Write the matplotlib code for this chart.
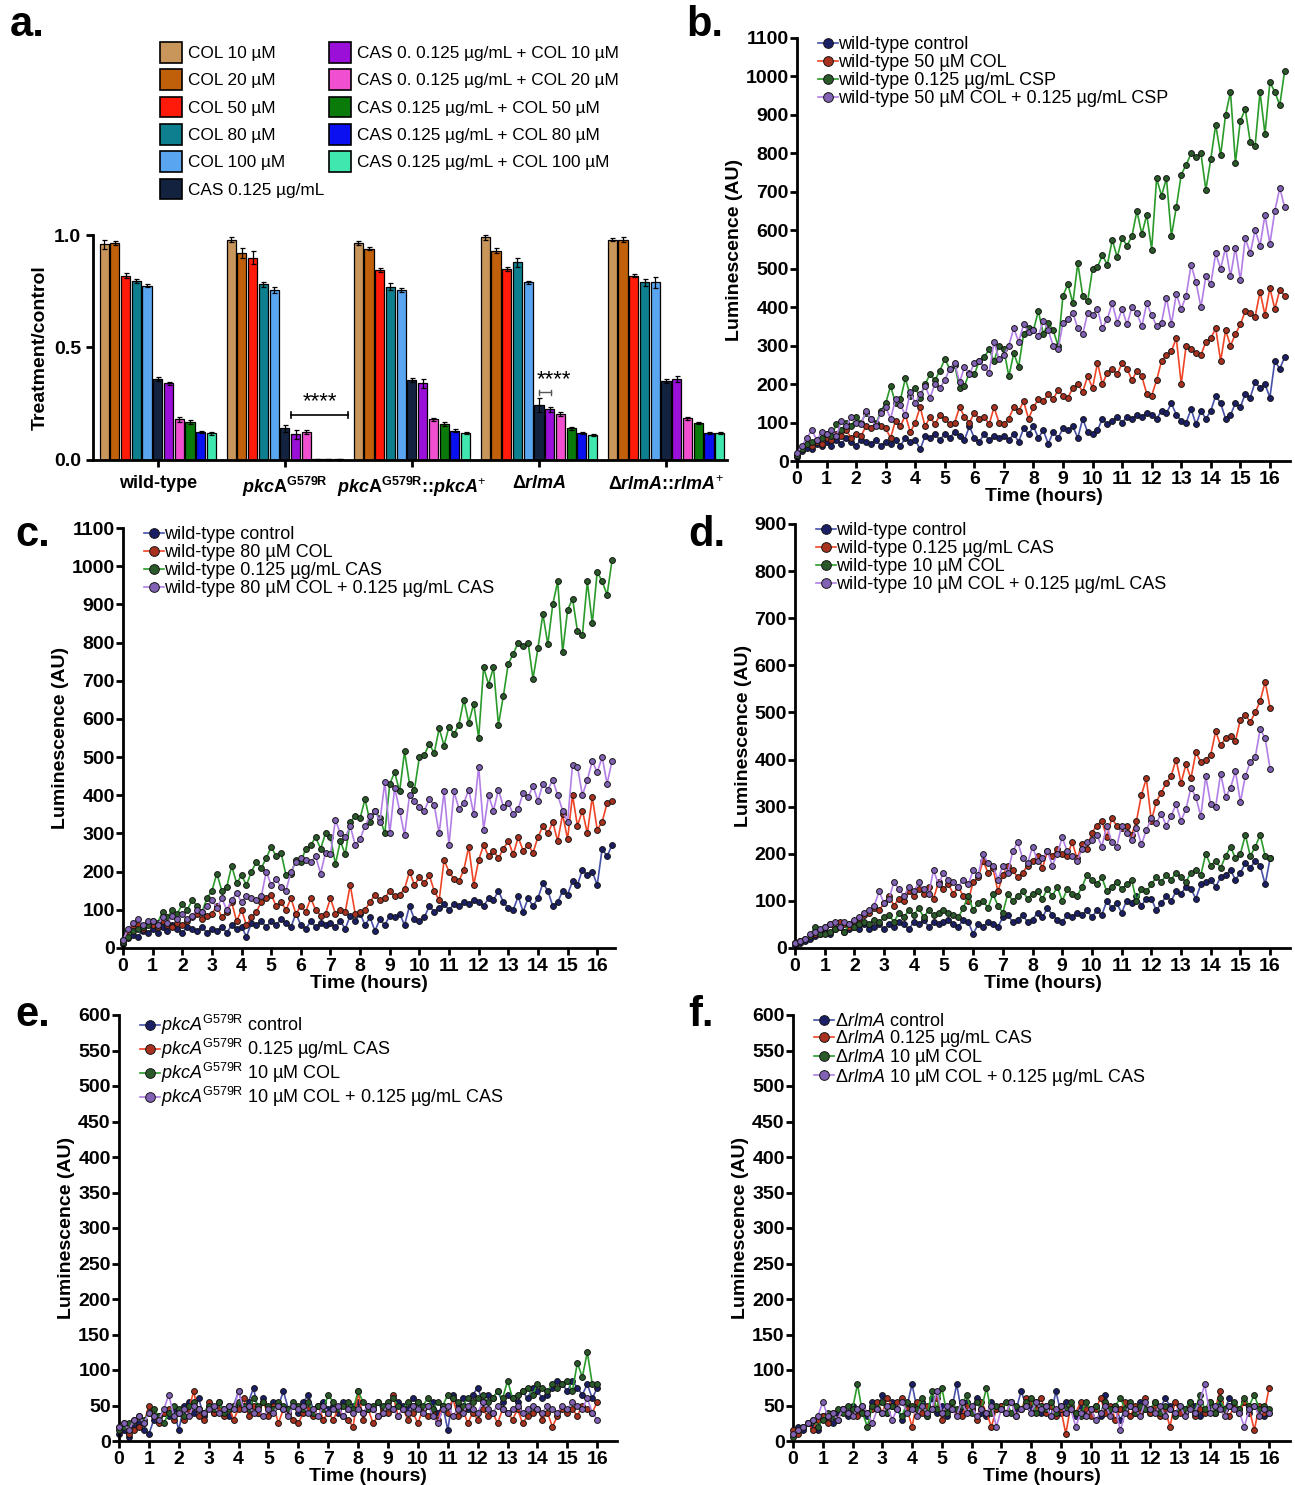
import numpy as np
import matplotlib
matplotlib.use('Agg')
import matplotlib.pyplot as plt
from matplotlib.patches import Patch

plt.rcParams['font.family'] = ['Liberation Sans', 'DejaVu Sans']
plt.rcParams['mathtext.fontset'] = 'custom'
plt.rcParams['mathtext.rm'] = 'Liberation Sans'
plt.rcParams['mathtext.it'] = 'Liberation Sans:italic'
plt.rcParams['mathtext.bf'] = 'Liberation Sans:bold'
try:
    plt.rcParams['mathtext.bfit'] = 'Liberation Sans:italic:bold'
    BFIT = True
except KeyError:
    BFIT = False

# ---------------- Panel a data ----------------
treatments = ['COL 10 µM', 'COL 20 µM', 'COL 50 µM', 'COL 80 µM', 'COL 100 µM',
              'CAS 0.125 µg/mL', 'CAS 0. 0.125 µg/mL + COL 10 µM',
              'CAS 0. 0.125 µg/mL + COL 20 µM', 'CAS 0.125 µg/mL + COL 50 µM',
              'CAS 0.125 µg/mL + COL 80 µM', 'CAS 0.125 µg/mL + COL 100 µM']
bar_colors = ['#c8955a', '#c0600a', '#ff1a0a', '#0e7f8e', '#5aa5f0', '#13233f',
              '#9b10d8', '#f050d0', '#0a7a0a', '#0a10f0', '#40e8b0']
it = r'\mathbfit' if BFIT else r'\mathit'
strains = ['wild-type',
           r'$' + it + r'{pkc}\mathbf{A}^{\mathbf{G579R}}$',
           r'$' + it + r'{pkc}\mathbf{A}^{\mathbf{G579R}}$' + '::' + r'$' + it + r'{pkcA}^{+}$',
           'Δ' + r'$' + it + r'{rlmA}$',
           'Δ' + r'$' + it + r'{rlmA}$' + '::' + r'$' + it + r'{rlmA}^{+}$']
bar_wt = [0.96, 0.965, 0.82, 0.795, 0.775, 0.36, 0.34, 0.18, 0.168, 0.125, 0.118]
bar_pkc = [0.98, 0.92, 0.90, 0.78, 0.755, 0.14, 0.115, 0.125, 0.004, 0.004, 0.004]
bar_pkc_comp = [0.965, 0.94, 0.845, 0.77, 0.755, 0.355, 0.34, 0.18, 0.16, 0.13, 0.12]
bar_rlm = [0.99, 0.93, 0.85, 0.88, 0.79, 0.245, 0.225, 0.205, 0.14, 0.12, 0.11]
bar_rlm_comp = [0.98, 0.98, 0.82, 0.79, 0.79, 0.35, 0.36, 0.185, 0.165, 0.12, 0.12]
err_wt = [0.02, 0.01, 0.01, 0.008, 0.008, 0.008, 0.006, 0.01, 0.01, 0.006, 0.006]
err_pkc = [0.01, 0.02, 0.03, 0.01, 0.015, 0.015, 0.02, 0.008, 0.002, 0.002, 0.002]
err_pkc_comp = [0.008, 0.008, 0.01, 0.015, 0.01, 0.008, 0.02, 0.006, 0.008, 0.006, 0.006]
err_rlm = [0.01, 0.01, 0.01, 0.02, 0.006, 0.03, 0.01, 0.008, 0.008, 0.006, 0.005]
err_rlm_comp = [0.006, 0.01, 0.006, 0.015, 0.025, 0.01, 0.015, 0.008, 0.006, 0.006, 0.006]

# ---------------- Time-course data (10-min readings) ----------------
b_control = [10, 25, 35, 30, 45, 40, 50, 40, 55, 45, 60, 50, 40, 55, 50, 45, 55, 40,
             50, 45, 55, 40, 60, 50, 55, 30, 65, 60, 70, 55, 70, 60, 75, 65, 55, 90,
             60, 50, 70, 55, 65, 60, 65, 55, 70, 50, 85, 70, 90, 60, 80, 45, 75, 60,
             85, 80, 90, 60, 110, 75, 70, 80, 110, 95, 105, 115, 100, 115, 110, 120, 115, 125,
             120, 110, 130, 125, 150, 120, 105, 100, 135, 95, 130, 110,
             130, 170, 150, 110, 120, 150, 140, 175, 165, 205, 190, 200, 165, 260, 240, 270]
b_col50 = [15, 30, 45, 40, 50, 45, 60, 55, 70, 65, 80, 60, 70, 65, 90, 85, 100, 90,
           85, 60, 105, 90, 120, 75, 100, 140, 90, 115, 95, 120, 110, 95, 100, 140, 115, 100,
           125, 110, 115, 95, 140, 100, 95, 110, 140, 130, 155, 110, 140, 160, 155, 175, 160, 185,
           170, 165, 190, 200, 180, 220, 190, 255, 200, 230, 240, 225, 255, 240, 210, 235, 220, 175,
           170, 210, 260, 275, 285, 320, 200, 300, 290, 280, 275, 310,
           320, 345, 260, 340, 300, 330, 355, 390, 385, 375, 440, 380, 450, 395, 445, 430]
b_cas = [15, 30, 45, 50, 55, 60, 70, 65, 95, 80, 100, 90, 115, 100, 125, 110, 95, 130,
         150, 195, 150, 160, 215, 170, 190, 165, 200, 225, 210, 235, 265, 240, 250, 190, 195, 230,
         225, 260, 270, 290, 260, 300, 290, 220, 280, 245, 330, 345, 340, 390, 330, 360, 340, 300,
         430, 460, 410, 515, 430, 415, 500, 505, 535, 510, 575, 530, 580, 560, 585, 650, 590, 640,
         550, 735, 690, 735, 585, 660, 745, 770, 800, 790, 800, 705,
         785, 875, 795, 900, 960, 775, 885, 915, 830, 820, 960, 850, 985, 960, 925, 1015]
b_combo = [20, 40, 60, 80, 55, 75, 70, 80, 65, 105, 90, 115, 100, 95, 130, 110, 90, 125,
           140, 110, 160, 145, 120, 180, 150, 175, 195, 165, 200, 190, 210, 240, 255, 205, 245, 225,
           255, 260, 245, 230, 310, 265, 275, 300, 345, 310, 355, 335, 340, 325, 365, 340, 300, 290,
           360, 370, 385, 345, 330, 385, 380, 395, 345, 370, 410, 360, 395, 355, 400, 385, 350, 410,
           380, 350, 360, 425, 355, 435, 395, 430, 510, 465, 400, 480,
           460, 540, 500, 555, 480, 555, 470, 580, 540, 600, 560, 640, 565, 650, 710, 660]
c_col80 = [20, 45, 55, 60, 50, 65, 60, 55, 70, 60, 55, 65, 60, 70, 80, 90, 75, 85,
           90, 110, 80, 95, 120, 70, 100, 60, 80, 95, 120, 130, 140, 110, 120, 100, 130, 90,
           110, 95, 130, 100, 85, 90, 130, 90, 100, 95, 165, 90, 95, 100, 120, 140, 125, 130,
           150, 135, 140, 155, 200, 165, 185, 170, 190, 150, 125, 230, 200, 180, 175, 205, 265, 165,
           230, 270, 240, 255, 235, 260, 280, 245, 290, 255, 270, 250,
           290, 320, 300, 330, 280, 350, 285, 400, 320, 360, 300, 395, 310, 330, 380, 385]
c_combo = [20, 50, 65, 75, 60, 70, 70, 60, 80, 65, 85, 75, 90, 75, 85, 100, 95, 110,
           125, 105, 130, 100, 125, 145, 120, 135, 130, 125, 135, 200, 165, 180, 160, 150, 200, 225,
           235, 230, 225, 240, 195, 250, 245, 335, 300, 290, 320, 270, 285, 320, 345, 360, 330, 435,
           300, 420, 360, 295, 400, 385, 370, 360, 390, 375, 300, 410, 270, 410, 365, 380, 415, 350,
           475, 310, 400, 360, 415, 370, 380, 350, 365, 405, 395, 425,
           385, 430, 415, 440, 400, 360, 330, 480, 475, 400, 440, 490, 460, 500, 430, 490]
d_control = [5, 10, 15, 20, 25, 30, 35, 30, 40, 45, 35, 40, 45, 40, 50, 40, 45, 50,
             40, 50, 45, 55, 50, 40, 55, 50, 60, 45, 55, 50, 55, 60, 50, 45, 60, 55,
             30, 50, 45, 55, 50, 45, 65, 70, 55, 60, 70, 55, 60, 75, 65, 85, 70, 60,
             55, 70, 65, 75, 70, 80, 65, 80, 70, 100, 85, 95, 75, 100, 95, 110, 90, 105,
             105, 80, 95, 110, 100, 120, 115, 130, 125, 105, 135, 140,
             145, 130, 150, 155, 165, 145, 160, 180, 170, 185, 175, 135, 190]
d_cas = [10, 15, 20, 25, 30, 35, 45, 50, 40, 55, 50, 45, 55, 60, 70, 75, 85, 80,
         95, 110, 90, 105, 100, 120, 110, 125, 115, 130, 105, 140, 125, 135, 115, 130, 110, 100,
         140, 150, 185, 160, 170, 120, 155, 175, 165, 150, 160, 175, 185, 195, 170, 205, 195, 210,
         200, 195, 225, 190, 220, 210, 245, 260, 270, 235, 275, 260, 255, 260, 240, 270, 325, 360,
         270, 310, 330, 350, 365, 400, 350, 390, 360, 415, 395, 400,
         410, 460, 430, 445, 450, 440, 485, 495, 480, 500, 525, 565, 510]
d_col10 = [10, 15, 20, 25, 45, 30, 30, 35, 40, 45, 35, 50, 45, 50, 55, 50, 60, 55,
           65, 70, 55, 75, 65, 80, 70, 85, 65, 80, 70, 75, 80, 75, 70, 65, 85, 110,
           80, 95, 100, 85, 115, 90, 75, 115, 100, 110, 120, 105, 115, 120, 105, 125, 110, 130,
           100, 125, 115, 110, 130, 155, 145, 135, 150, 120, 130, 140, 125, 135, 145, 100, 125, 120,
           135, 150, 140, 155, 145, 160, 150, 140, 160, 165, 155, 200,
           175, 185, 170, 195, 215, 190, 200, 240, 195, 215, 240, 195, 190]
d_combo = [10, 15, 20, 30, 35, 40, 45, 50, 55, 45, 55, 50, 60, 65, 75, 80, 90, 120,
           95, 105, 140, 125, 110, 130, 120, 140, 125, 115, 165, 135, 160, 145, 140, 130, 145, 135,
           165, 155, 200, 180, 175, 145, 175, 160, 205, 225, 190, 180, 215, 185, 190, 205, 175, 200,
           235, 205, 195, 185, 210, 225, 230, 240, 215, 260, 225, 215, 260, 245, 230, 255, 220, 250,
           275, 265, 285, 260, 280, 305, 270, 295, 340, 320, 280, 365,
           305, 300, 370, 320, 340, 375, 310, 365, 395, 405, 465, 445, 380]
e_control = [10, 15, 5, 20, 25, 15, 10, 30, 35, 40, 35, 45, 15, 50, 55, 40, 60, 35,
             50, 40, 55, 45, 35, 50, 70, 45, 55, 75, 40, 60, 45, 55, 50, 70, 45, 50,
             40, 55, 65, 45, 50, 55, 45, 50, 40, 55, 45, 50, 55, 40, 50, 45, 55, 40,
             50, 45, 55, 50, 45, 60, 55, 45, 50, 55, 40, 50, 15, 65, 50, 60, 45, 65,
             75, 55, 65, 60, 70, 55, 65, 60, 55, 70, 60, 75,
             70, 60, 65, 75, 85, 80, 70, 85, 75, 65, 80, 60, 75]
e_cas = [20, 25, 10, 15, 20, 25, 50, 35, 25, 40, 45, 30, 40, 30, 45, 70, 35, 30,
         55, 40, 45, 35, 50, 30, 45, 60, 35, 50, 40, 55, 35, 50, 25, 45, 40, 30,
         25, 40, 45, 35, 50, 30, 40, 30, 45, 35, 30, 20, 70, 30, 45, 25, 35, 45,
         40, 65, 35, 45, 30, 40, 25, 45, 35, 40, 30, 50, 40, 60, 35, 45, 25, 40,
         30, 45, 35, 40, 25, 45, 40, 30, 45, 25, 35, 40,
         45, 30, 40, 20, 35, 45, 40, 45, 35, 50, 45, 40, 55]
e_col10 = [15, 20, 25, 30, 35, 30, 40, 45, 35, 25, 40, 50, 45, 35, 50, 55, 45, 40,
           50, 45, 55, 40, 45, 50, 55, 50, 45, 60, 50, 55, 50, 45, 55, 50, 45, 55,
           50, 45, 55, 40, 50, 45, 65, 55, 45, 50, 55, 45, 70, 55, 45, 50, 55, 50,
           55, 60, 50, 45, 55, 50, 55, 50, 60, 45, 55, 50, 65, 60, 55, 50, 60, 55,
           60, 65, 55, 60, 70, 60, 85, 60, 65, 70, 75, 65,
           80, 75, 70, 80, 75, 80, 85, 70, 110, 90, 125, 80, 80]
e_combo = [20, 25, 15, 30, 35, 25, 40, 35, 30, 45, 65, 35, 40, 45, 35, 50, 45, 40,
           45, 50, 40, 45, 50, 45, 70, 45, 50, 40, 45, 35, 45, 40, 50, 45, 35, 50,
           45, 50, 40, 45, 35, 50, 40, 45, 50, 35, 45, 40, 45, 40, 50, 45, 35, 40,
           50, 45, 35, 45, 40, 50, 45, 40, 50, 35, 25, 45, 50, 35, 45, 40, 50, 45,
           40, 55, 45, 40, 50, 45, 40, 45, 50, 40, 45, 50,
           45, 40, 50, 45, 40, 50, 45, 55, 50, 45, 60, 40, 30]
f_control = [10, 20, 15, 25, 20, 15, 35, 30, 25, 40, 45, 35, 50, 40, 45, 35, 55, 45,
             65, 40, 55, 45, 30, 50, 80, 45, 55, 35, 60, 40, 50, 35, 45, 80, 40, 55,
             45, 60, 40, 35, 55, 45, 50, 40, 55, 45, 70, 50, 45, 55, 40, 50, 35, 70,
             40, 55, 45, 35, 50, 40, 45, 50, 35, 65, 40, 50, 30, 45, 50, 40, 55, 45,
             40, 55, 45, 60, 50, 40, 45, 40, 55, 50, 35, 45,
             50, 40, 55, 45, 60, 50, 45, 55, 40, 50, 45, 35, 40]
f_cas = [15, 10, 20, 25, 15, 30, 35, 25, 40, 30, 45, 40, 45, 35, 50, 40, 45, 55,
         40, 60, 50, 55, 60, 45, 20, 55, 40, 50, 45, 60, 30, 45, 55, 40, 35, 50,
         45, 30, 55, 40, 20, 45, 50, 40, 55, 35, 45, 60, 55, 45, 60, 40, 50, 35,
         45, 10, 50, 40, 55, 45, 35, 45, 60, 40, 50, 30, 45, 55, 35, 50, 40, 60,
         40, 50, 35, 45, 20, 55, 40, 45, 50, 35, 45, 40,
         55, 40, 70, 45, 35, 50, 40, 55, 45, 15, 50, 40, 75]
f_col10 = [5, 15, 20, 25, 30, 20, 30, 40, 35, 45, 40, 50, 45, 80, 40, 20, 50, 45,
           55, 40, 50, 45, 35, 55, 50, 45, 60, 35, 70, 45, 75, 40, 55, 45, 50, 65,
           40, 55, 45, 75, 40, 50, 45, 55, 40, 50, 45, 55, 60, 40, 50, 45, 55, 40,
           50, 45, 55, 40, 35, 55, 45, 50, 40, 55, 45, 50, 60, 45, 55, 40, 50, 45,
           45, 55, 40, 50, 45, 35, 50, 45, 55, 40, 65, 45,
           55, 40, 60, 45, 50, 55, 45, 60, 50, 65, 45, 50, 45]
f_combo = [10, 15, 20, 25, 30, 35, 55, 35, 40, 30, 45, 40, 35, 45, 50, 40, 25, 45,
           40, 50, 30, 45, 55, 40, 45, 35, 50, 40, 45, 70, 40, 50, 45, 35, 55, 40,
           50, 35, 45, 40, 50, 20, 45, 40, 55, 35, 45, 50, 40, 55, 45, 50, 35, 45,
           50, 40, 45, 20, 40, 35, 45, 30, 40, 50, 35, 45, 15, 40, 50, 45, 35, 55,
           45, 40, 50, 35, 45, 40, 50, 35, 45, 40, 55, 80,
           40, 50, 45, 35, 50, 45, 40, 20, 45, 50, 35, 45, 40]
READS_PER_HOUR = 6

labels_b = ['wild-type control', 'wild-type 50 µM COL', 'wild-type 0.125 µg/mL CSP',
            'wild-type 50 µM COL + 0.125 µg/mL CSP']
labels_c = ['wild-type control', 'wild-type 80 µM COL', 'wild-type 0.125 µg/mL CAS',
            'wild-type 80 µM COL + 0.125 µg/mL CAS']
labels_d = ['wild-type control', 'wild-type 0.125 µg/mL CAS', 'wild-type 10 µM COL',
            'wild-type 10 µM COL + 0.125 µg/mL CAS']
pk = r'$\mathit{pkcA}^{\mathregular{G579R}}$'
labels_e = [pk + ' control', pk + ' 0.125 µg/mL CAS', pk + ' 10 µM COL',
            pk + ' 10 µM COL + 0.125 µg/mL CAS']
rl = r'Δ$\mathit{rlmA}$'
labels_f = [rl + ' control', rl + ' 0.125 µg/mL CAS', rl + ' 10 µM COL',
            rl + ' 10 µM COL + 0.125 µg/mL CAS']

line_colors = ['#4650a8', '#ee4425', '#2a9a2a', '#b27ee6']
face_colors = ['#1b1f66', '#a8321f', '#2a5a2a', '#8262b4']

W, H = 1295, 1485
fig = plt.figure(figsize=(W / 100, H / 100), dpi=100)

TICK_FS = 14
LABEL_FS = 14


def rect(left, right, top, bottom):
    return [left / W, 1 - bottom / H, (right - left) / W, (bottom - top) / H]


def style_axes(ax):
    for s in ['top', 'right']:
        ax.spines[s].set_visible(False)
    for s in ['left', 'bottom']:
        ax.spines[s].set_linewidth(2)
    ax.tick_params(width=2, length=5, labelsize=TICK_FS)
    for lab in ax.get_xticklabels() + ax.get_yticklabels():
        lab.set_fontweight('bold')


# ---------------- Panel a ----------------
axa = fig.add_axes(rect(93, 727, 235, 460))
bar_sets = [bar_wt, bar_pkc, bar_pkc_comp, bar_rlm, bar_rlm_comp]
err_sets = [err_wt, err_pkc, err_pkc_comp, err_rlm, err_rlm_comp]
pitch = 0.0845
width = 0.072
for gi, (vals, errs) in enumerate(zip(bar_sets, err_sets)):
    for ti in range(len(treatments)):
        x = gi + (ti - 5) * pitch
        axa.bar(x, vals[ti], width=width, color=bar_colors[ti], edgecolor='black',
                linewidth=0.9, zorder=2)
        axa.errorbar(x, vals[ti], yerr=errs[ti], color='black', capsize=1.8,
                     elinewidth=0.9, capthick=0.9, zorder=3, clip_on=False)
axa.set_xlim(-0.51, 4.48)
axa.set_ylim(0, 1.0)
axa.set_yticks([0.0, 0.5, 1.0])
axa.set_yticklabels(['0.0', '0.5', '1.0'])
axa.set_xticks(range(5))
axa.set_xticklabels(strains)
axa.set_ylabel('Treatment/control', fontsize=14, fontweight='bold', labelpad=4)
style_axes(axa)
axa.tick_params(axis='x', pad=6, labelsize=13)
# significance markers
x0, x1 = 1 + 0.6 * pitch, 1 + 5.9 * pitch
axa.plot([x0, x1], [0.2, 0.2], color='black', lw=1.2)
axa.plot([x0, x0], [0.185, 0.215], color='black', lw=1.2)
axa.plot([x1, x1], [0.185, 0.215], color='black', lw=1.2)
axa.text((x0 + x1) / 2, 0.212, '****', ha='center', va='bottom', fontsize=16)
x0, x1 = 3 + 0.0 * pitch, 3 + 1.1 * pitch
axa.plot([x0, x1], [0.3, 0.3], color='#555555', lw=1.0)
axa.plot([x0, x0], [0.29, 0.31], color='#555555', lw=1.0)
axa.plot([x1, x1], [0.29, 0.31], color='#555555', lw=1.0)
axa.text(3 + 1.4 * pitch, 0.312, '****', ha='center', va='bottom', fontsize=16)

handles = [Patch(facecolor=c, edgecolor='black', linewidth=1.2) for c in bar_colors]
fig.legend(handles, treatments, ncol=2, loc='upper left',
           bbox_to_anchor=(148 / W, 1 - 30 / H), frameon=False, fontsize=12.4,
           handlelength=1.3, handleheight=1.45, labelspacing=0.4,
           handletextpad=0.3, columnspacing=0.3, borderpad=0.2)


# ---------------- Time-course panels ----------------
def ts_panel(r, series, labels, ymax, ystep, xmax, spacing=0.05):
    ax = fig.add_axes(r)
    for i, vals in enumerate(series):
        t = np.arange(len(vals)) / READS_PER_HOUR
        ax.plot(t, vals, '-', color=line_colors[i], lw=1.2, marker='o', ms=4.2,
                mfc=face_colors[i], mec='#151515', mew=0.7, label=labels[i],
                clip_on=False, zorder=2 + i)
    ax.set_xlim(0, xmax)
    ax.set_ylim(0, ymax)
    ax.set_xticks(range(17))
    ax.set_yticks(range(0, ymax + 1, ystep))
    ax.set_xlabel('Time (hours)', fontsize=LABEL_FS, fontweight='bold', labelpad=0)
    ax.set_ylabel('Luminescence (AU)', fontsize=LABEL_FS, fontweight='bold', labelpad=2)
    style_axes(ax)
    ax.tick_params(axis='x', pad=2)
    ax.tick_params(axis='y', pad=1)
    leg = ax.legend(loc='upper left', bbox_to_anchor=(0.02, 1.03), frameon=False,
                    fontsize=13, handlelength=1.1, handletextpad=0.05,
                    labelspacing=spacing, borderpad=0.1)
    for h in leg.legend_handles:
        h.set_markersize(7)
    return ax


ts_panel(rect(797, 1290, 38, 461), [b_control, b_col50, b_cas, b_combo],
         labels_b, 1100, 100, 16.68)
ts_panel(rect(123, 615, 528, 948), [b_control, c_col80, b_cas, c_combo],
         labels_c, 1100, 100, 16.6)
ts_panel(rect(795, 1290, 524, 948), [d_control, d_cas, d_col10, d_combo],
         labels_d, 900, 100, 16.67)
ts_panel(rect(119, 617, 1015, 1441), [e_control, e_cas, e_col10, e_combo],
         labels_e, 600, 50, 16.66, spacing=0.0)
ts_panel(rect(793, 1290, 1015, 1441), [f_control, f_cas, f_col10, f_combo],
         labels_f, 600, 50, 16.7, spacing=-0.1)

# panel letters
for letter, (px, py) in zip('abcdef', [(10, 5), (686, 5), (15, 515), (688, 515),
                                       (15, 995), (688, 995)]):
    fig.text(px / W, 1 - py / H, letter + '.', fontsize=30, fontweight='bold',
             ha='left', va='top')

fig.savefig('out.png', dpi=100)
